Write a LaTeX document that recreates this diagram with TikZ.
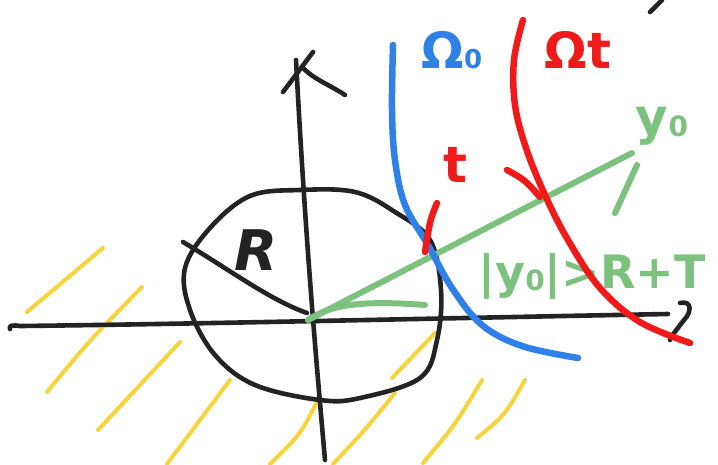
\documentclass[tikz,border=0pt]{standalone}
\usepackage{fontspec}
\setmainfont{DejaVu Sans}
\definecolor{skblue}{HTML}{2F80E8}
\definecolor{skred}{HTML}{F01A1A}
\definecolor{skgreen}{HTML}{7CC27E}
\definecolor{skyellow}{HTML}{F6D43A}
\definecolor{skblack}{HTML}{232323}
\begin{document}
\begin{tikzpicture}[x=1pt,y=-1pt,line cap=round,line join=round,
  blk/.style={line width=4.6pt,draw=skblack},
  blu/.style={draw=skblue,line width=6.5pt},
  rd/.style={draw=skred,line width=6.5pt},
  grn/.style={draw=skgreen,line width=6pt},
  ylw/.style={draw=skyellow,line width=4pt},
  lab/.style={inner sep=0pt,font=\bfseries\fontsize{50}{50}\selectfont}]
\useasboundingbox (0,0) rectangle (718,464);
% yellow hatching
\draw[ylw] (27,312) -- (103,248);
\draw[ylw] (47,392) .. controls (90,340) .. (142,287);
\draw[ylw] (98,430) .. controls (140,385) .. (180,342);
\draw[ylw] (167,464) .. controls (200,420) .. (230,380);
\draw[ylw] (270,464) .. controls (300,435) .. (318,400);
\draw[ylw] (333,464) .. controls (365,430) .. (395,393);
\draw[ylw] (392,378) -- (435,333);
\draw[ylw] (423,463) .. controls (455,425) .. (482,380);
\draw[ylw] (477,438) .. controls (505,415) .. (525,380);
% axes
\draw[blk] (10,329) .. controls (8,325) and (14,325) .. (20,326) .. controls (200,324) and (450,318) .. (668,314);
\draw[blk] (680,303) .. controls (692,300) and (692,312) .. (684,320) .. controls (678,328) and (672,335) .. (670,340);
\draw[blk] (325,460) .. controls (318,380) and (306,250) .. (296,60);
\draw[blk] (283,92) -- (313,52);
\draw[blk] (303,68) .. controls (315,80) and (330,85) .. (345,95);
\draw[blk] (650,12) -- (662,0);
% circle
\draw[blk] plot[smooth cycle,tension=0.6] coordinates {(250,196) (300,190) (355,192) (395,212) (430,240) (441,290) (437,340) (420,378) (360,398) (320,400) (255,385) (215,355) (190,310) (185,268) (210,228)};
% radius
\draw[blk] (183,242) .. controls (230,270) and (270,300) .. (307,313);
\node[lab,text=skblack,font=\bfseries\itshape\fontsize{56}{56}\selectfont] (R) at (256,250) {R};
% green
\draw[grn] (308,320) .. controls (330,305) and (360,300) .. (425,305);
\draw[grn] (308,320) -- (632,153);
\draw[grn] (637,165) -- (615,213);
\node[lab,text=skgreen] (y0) at (662,126) {y\raisebox{-2pt}{\fontsize{28}{28}\selectfont 0}};
\node[lab,text=skgreen,font=\bfseries\fontsize{46}{46}\selectfont] (cond) at (592,276) {|y\raisebox{-2pt}{\fontsize{28}{28}\selectfont 0}|>R+T};
% blue boundary
\draw[blu] plot[smooth,tension=0.6] coordinates {(393,45) (392,110) (395,160) (405,205) (428,245) (452,288) (482,325) (522,346) (578,358)};
\node[lab,text=skblue] (O0) at (452,50) {Ω\raisebox{0pt}{\fontsize{26}{26}\selectfont 0}};
% red boundary
\draw[rd] plot[smooth,tension=0.6] coordinates {(523,20) (514,60) (515,105) (526,148) (545,195) (568,240) (600,288) (640,322) (690,343)};
\node[lab,text=skred] (Ot) at (578,50) {Ωt};
\node[lab,text=skred] (t) at (455,165) {t};
\draw[rd] (437,203) .. controls (430,220) .. (425,252);
\draw[rd] (507,170) .. controls (525,180) .. (540,197);
\end{tikzpicture}
\end{document}
